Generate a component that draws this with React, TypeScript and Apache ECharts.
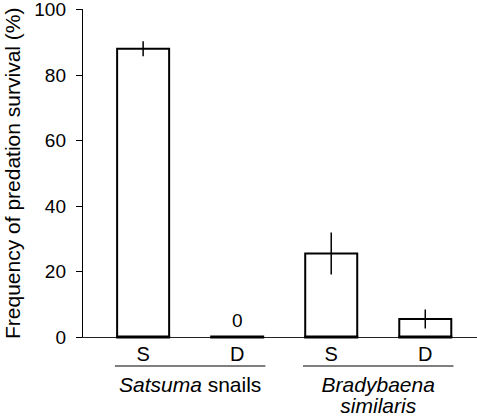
import React, { useEffect, useRef } from "react";
import * as echarts from "echarts";

const categories = ["S", "D", "S", "D"];
const survival = [88, 0, 25.5, 5.5];
const errors = [2.3, 0, 6.4, 2.9];
const groupNames = ["{i|Satsuma} snails", "{i|Bradybaena}\n{i|similaris}"];
const groupMembers = [[0, 1], [2, 3]];
const zeroLabels = ["", "0", "", ""];

const FONT = "'Liberation Sans', Arial, Helvetica, sans-serif";

export default function App() {
  const ref = useRef<HTMLDivElement>(null);
  useEffect(() => {
    if (!ref.current) return;
    const chart = echarts.init(ref.current, undefined, { renderer: "svg" });
    const barData = categories.map((c, i) => [i + 1, survival[i], errors[i], c, zeroLabels[i]]);
    const groupData = groupMembers.map((m, g) => [m[0] + 1 - 0.3, m[m.length - 1] + 1 + 0.3, groupNames[g]]);
    chart.setOption({
      animation: false,
      grid: { left: 82, right: 0, top: 9.5, bottom: 80, containLabel: false, outerBoundsMode: "none" },
      xAxis: {
        type: "value",
        min: 0.35,
        max: 4.55,
        axisLine: { show: true, onZero: false, lineStyle: { color: "#222", width: 1 } },
        axisTick: { show: false },
        axisLabel: { show: false },
        splitLine: { show: false },
      },
      yAxis: {
        type: "value",
        min: 0,
        max: 100,
        interval: 20,
        name: "Frequency of predation survival (%)",
        nameLocation: "middle",
        nameGap: 58,
        nameTextStyle: { fontSize: 21, color: "#000", fontFamily: FONT },
        axisLine: { show: true, lineStyle: { color: "#000", width: 1 } },
        axisTick: { show: true, inside: false, length: 6, lineStyle: { color: "#000", width: 1 } },
        axisLabel: { fontSize: 19, color: "#000", margin: 16, fontFamily: FONT },
        splitLine: { show: false },
      },
      series: [
        {
          type: "custom",
          clip: false,
          data: barData,
          renderItem: (params: any, api: any) => {
            const x = api.value(0);
            const y = api.value(1);
            const e = api.value(2);
            const cat = categories[params.dataIndex];
            const lab = zeroLabels[params.dataIndex];
            const top = api.coord([x, y]);
            const base = api.coord([x, 0]);
            const w = api.size([0.553, 0])[0];
            const children: any[] = [];
            if (y > 0) {
              children.push({
                type: "rect",
                shape: { x: base[0] - w / 2, y: top[1], width: w, height: base[1] - top[1] },
                style: { fill: "#fff", stroke: "#000", lineWidth: 2 },
              });
            }
            children.push({
              type: "line",
              shape: { x1: base[0] - w / 2 - 1, y1: base[1], x2: base[0] + w / 2 + 1, y2: base[1] },
              style: { stroke: "#000", lineWidth: 3 },
            });
            if (e > 0) {
              const hi = api.coord([x, y + e]);
              const lo = api.coord([x, y - e]);
              children.push({
                type: "line",
                shape: { x1: base[0], y1: hi[1], x2: base[0], y2: lo[1] },
                style: { stroke: "#000", lineWidth: 1.5 },
              });
            }
            if (lab) {
              children.push({
                type: "text",
                style: {
                  text: lab, x: base[0], y: top[1] - 17, align: "center", verticalAlign: "middle",
                  fontSize: 19, fill: "#000", fontFamily: FONT,
                },
              });
            }
            children.push({
              type: "text",
              style: {
                text: cat, x: base[0], y: base[1] + 17, align: "center", verticalAlign: "middle",
                fontSize: 20, fill: "#000", fontFamily: FONT,
              },
            });
            return { type: "group", children };
          },
        },
        {
          type: "custom",
          clip: false,
          data: groupData,
          renderItem: (params: any, api: any) => {
            const x0 = api.value(0);
            const x1 = api.value(1);
            const name = groupNames[params.dataIndex];
            const a = api.coord([x0, 0]);
            const b = api.coord([x1, 0]);
            const ly = a[1] + 29;
            return {
              type: "group",
              children: [
                {
                  type: "line",
                  shape: { x1: a[0], y1: ly, x2: b[0], y2: ly },
                  style: { stroke: "#000", lineWidth: 1.2 },
                },
                {
                  type: "text",
                  style: {
                    text: name, x: (a[0] + b[0]) / 2, y: ly + 8, align: "center", verticalAlign: "top",
                    fontSize: 21, fill: "#000", fontFamily: FONT, lineHeight: 21,
                    rich: { i: { fontStyle: "italic", fontSize: 21, fontFamily: FONT, lineHeight: 21 } },
                  },
                },
              ],
            };
          },
        },
      ],
    });
    return () => chart.dispose();
  }, []);
  return <div ref={ref} style={{ position: "absolute", left: 0, top: 0, width: 477, height: 417 }} />;
}
